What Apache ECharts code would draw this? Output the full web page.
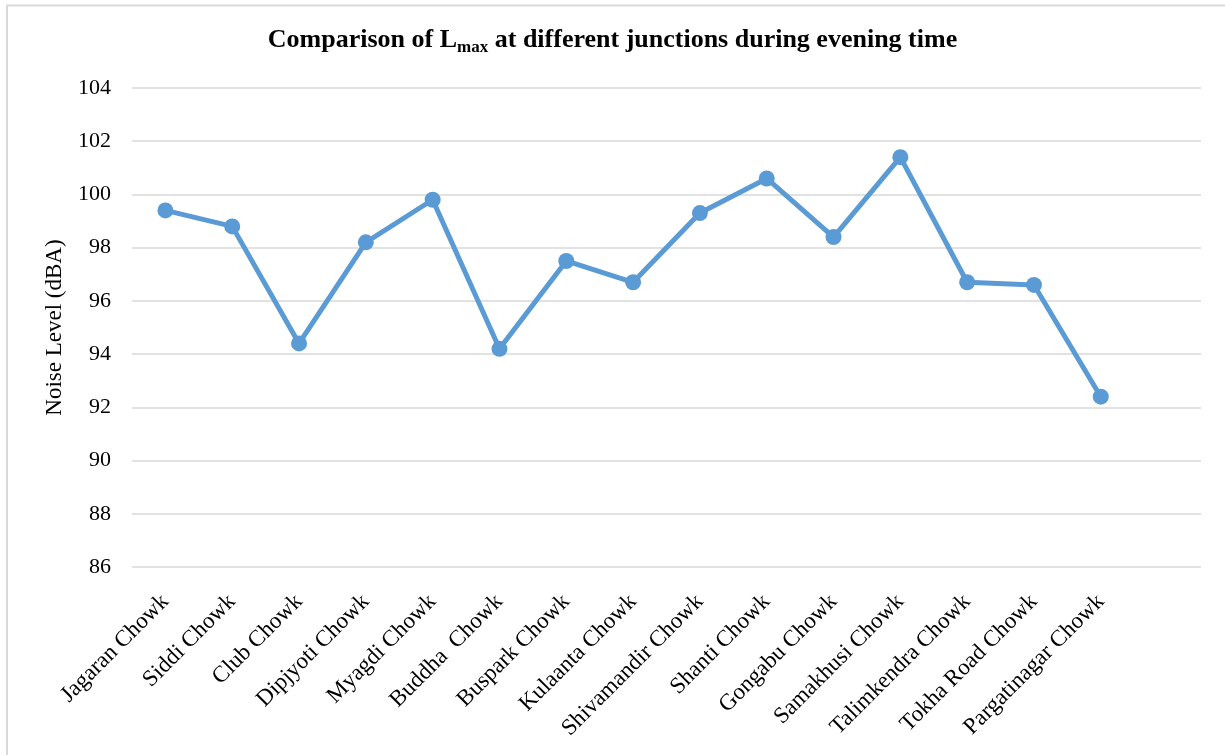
<!DOCTYPE html>
<html>
<head>
<meta charset="utf-8">
<script src="https://cdn.jsdelivr.net/npm/echarts@6/dist/echarts.min.js"></script>
<style>
  html, body { margin: 0; padding: 0; background: #fff; }
  #chart { width: 1225px; height: 755px; }
</style>
</head>
<body>
<div id="chart"></div>
<script>
var junctions = [
  "Jagaran Chowk", "Siddi Chowk", "Club Chowk", "Dipjyoti Chowk", "Myagdi Chowk",
  "Buddha  Chowk", "Buspark Chowk", "Kulaanta Chowk", "Shivamandir Chowk", "Shanti Chowk",
  "Gongabu Chowk", "Samakhusi Chowk", "Talimkendra Chowk", "Tokha Road Chowk", "Pargatinagar Chowk"
];
var lmaxEvening = [99.4, 98.8, 94.4, 98.2, 99.8, 94.2, 97.5, 96.7, 99.3, 100.6, 98.4, 101.4, 96.7, 96.6, 92.4];
var yMin = 86, yMax = 104, yStep = 2;

var font = "'Liberation Serif', 'Times New Roman', serif";
var chart = echarts.init(document.getElementById("chart"));
var option = {
  backgroundColor: "#fff",
  animation: false,
  graphic: [
    {
      type: "rect",
      shape: { x: 7, y: 5.5, width: 1300, height: 800 },
      style: { fill: "none", stroke: "#d9d9d9", lineWidth: 2 }
    }
  ],
  title: {
    text: "{b|Comparison of L}{s|max}{b| at different junctions during evening time}",
    left: "center",
    top: 19,
    textStyle: {
      rich: {
        b: { fontFamily: font, fontWeight: "bold", fontSize: 26, color: "#000", lineHeight: 32, verticalAlign: "middle" },
        s: { fontFamily: font, fontWeight: "bold", fontSize: 17, color: "#000", lineHeight: 32, verticalAlign: "middle", padding: [16, 0, 0, 0] }
      }
    }
  },
  grid: { left: 132, right: 24, top: 88, bottom: 188 },
  xAxis: {
    type: "category",
    data: junctions.concat([""]),
    boundaryGap: true,
    axisLine: { show: false },
    axisTick: { show: false },
    axisLabel: {
      rotate: 45,
      interval: 0,
      margin: 31,
      fontFamily: font,
      fontSize: 23,
      color: "#000"
    }
  },
  yAxis: {
    type: "value",
    min: yMin,
    max: yMax,
    interval: yStep,
    name: "Noise Level (dBA)",
    nameLocation: "middle",
    nameGap: 66,
    nameTextStyle: { fontFamily: font, fontSize: 23, color: "#000" },
    axisLine: { show: false },
    axisTick: { show: false },
    axisLabel: { margin: 21, fontFamily: font, fontSize: 22, color: "#000" },
    splitLine: { lineStyle: { color: "#d9d9d9", width: 1.5 } }
  },
  series: [
    {
      name: "Lmax",
      type: "line",
      data: lmaxEvening,
      symbol: "circle",
      symbolSize: 16,
      lineStyle: { color: "#5b9bd5", width: 5 },
      itemStyle: { color: "#5b9bd5" }
    }
  ]
};
chart.setOption(option);
</script>
</body>
</html>
